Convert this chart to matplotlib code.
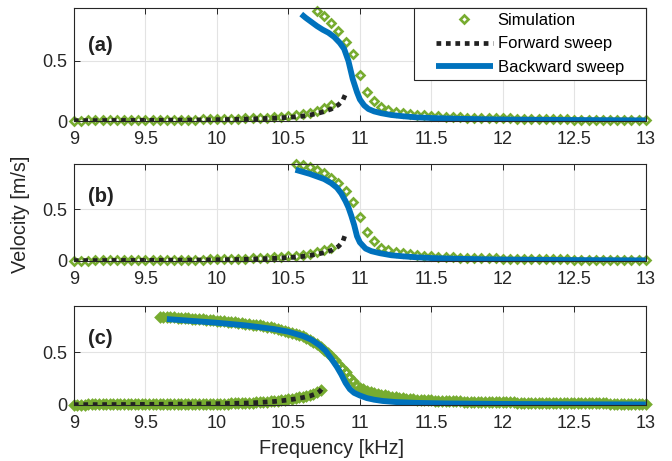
import numpy as np
import matplotlib
matplotlib.use("Agg")
import matplotlib.pyplot as plt
from matplotlib.path import Path

plt.rcParams['font.family'] = ['Liberation Sans', 'DejaVu Sans']

GREEN = '#77AC30'
BLUE = '#0072BD'
BLACK = '#222222'
DARK = '#262626'

xticks = [9, 9.5, 10, 10.5, 11, 11.5, 12, 12.5, 13]
xtick_labels = ['9', '9.5', '10', '10.5', '11', '11.5', '12', '12.5', '13']
yticks = [0, 0.5]
ytick_labels = ['0', '0.5']
panel_labels = ['(a)', '(b)', '(c)']
legend_labels = ['Simulation', 'Forward sweep', 'Backward sweep']

# ---------------- panel (a) ----------------
sim_a_low_f = np.round(np.arange(9.0, 10.8001, 0.05), 3)
sim_a_low_v = [0.004, 0.004, 0.005, 0.005, 0.005, 0.006, 0.006, 0.006, 0.007, 0.007,
               0.008, 0.008, 0.009, 0.009, 0.010, 0.011, 0.011, 0.012, 0.013, 0.014,
               0.015, 0.016, 0.017, 0.019, 0.021, 0.023, 0.025, 0.028, 0.031, 0.035,
               0.040, 0.047, 0.056, 0.068, 0.084, 0.106, 0.135]
sim_a_up_f = np.round(np.arange(10.7, 13.0001, 0.05), 3)
sim_a_up_v = [0.915, 0.870, 0.815, 0.745, 0.655, 0.555, 0.385, 0.240, 0.163, 0.120,
              0.094, 0.079, 0.068, 0.059, 0.052, 0.047, 0.043,
              0.039, 0.036, 0.033, 0.031, 0.029, 0.027, 0.025, 0.024, 0.023, 0.022,
              0.021, 0.020, 0.019, 0.018, 0.017, 0.016, 0.015, 0.014, 0.013, 0.012,
              0.011, 0.011, 0.010, 0.009, 0.009, 0.008, 0.007, 0.007, 0.006, 0.006]
fwd_a_f = [9.0, 9.2, 9.4, 9.6, 9.8, 10.0, 10.1, 10.2, 10.3, 10.4, 10.5, 10.55,
           10.6, 10.65, 10.7, 10.75, 10.8, 10.85, 10.88, 10.9]
fwd_a_v = [0.003, 0.004, 0.005, 0.006, 0.008, 0.011, 0.013, 0.016, 0.019, 0.024,
           0.030, 0.035, 0.041, 0.050, 0.062, 0.078, 0.100, 0.135, 0.170, 0.225]
bwd_a_f = [10.59, 10.62, 10.66, 10.70, 10.74, 10.78, 10.82, 10.86, 10.89, 10.92,
           10.95, 10.98, 11.00, 11.03, 11.06, 11.10, 11.15, 11.22, 11.30, 11.40,
           11.50, 11.70, 12.0, 12.5, 13.0]
bwd_a_v = [0.89, 0.86, 0.825, 0.79, 0.76, 0.735, 0.70, 0.65, 0.60, 0.50,
           0.35, 0.24, 0.18, 0.13, 0.10, 0.08, 0.065, 0.05, 0.04, 0.03,
           0.025, 0.018, 0.012, 0.008, 0.005]

# ---------------- panel (b) ----------------
sim_b_low_f = np.round(np.arange(9.0, 10.8001, 0.05), 3)
sim_b_low_v = [0.004, 0.004, 0.004, 0.005, 0.005, 0.005, 0.006, 0.006, 0.006, 0.007,
               0.007, 0.008, 0.008, 0.009, 0.010, 0.010, 0.011, 0.012, 0.013, 0.014,
               0.015, 0.016, 0.018, 0.019, 0.021, 0.024, 0.027, 0.030, 0.034, 0.038,
               0.044, 0.051, 0.060, 0.071, 0.086, 0.105, 0.130]
sim_b_up_f = np.round(np.arange(10.55, 13.0001, 0.05), 3)
sim_b_up_v = [0.945, 0.930, 0.910, 0.882, 0.850, 0.805, 0.755, 0.680, 0.575, 0.425,
              0.285, 0.190, 0.130, 0.102, 0.086, 0.073, 0.063, 0.055, 0.049, 0.044,
              0.040, 0.037, 0.034, 0.032, 0.030, 0.028, 0.026, 0.025, 0.024, 0.023,
              0.022, 0.021, 0.020, 0.019, 0.018, 0.017, 0.016, 0.015, 0.014, 0.013,
              0.012, 0.012, 0.011, 0.010, 0.010, 0.009, 0.008, 0.008, 0.007, 0.007]
fwd_b_f = [9.0, 9.2, 9.4, 9.6, 9.8, 10.0, 10.1, 10.2, 10.3, 10.4, 10.5, 10.55,
           10.6, 10.65, 10.7, 10.75, 10.8, 10.85, 10.88, 10.9]
fwd_b_v = [0.003, 0.004, 0.005, 0.006, 0.008, 0.011, 0.013, 0.016, 0.020, 0.025,
           0.032, 0.037, 0.044, 0.053, 0.065, 0.080, 0.102, 0.140, 0.185, 0.265]
bwd_b_f = [10.55, 10.60, 10.65, 10.70, 10.75, 10.80, 10.84, 10.87, 10.90, 10.92,
           10.94, 10.96, 10.98, 11.00, 11.04, 11.08, 11.14, 11.22, 11.30, 11.40,
           11.50, 11.70, 12.0, 12.5, 13.0]
bwd_b_v = [0.885, 0.865, 0.845, 0.82, 0.795, 0.755, 0.71, 0.655, 0.58, 0.52,
           0.44, 0.35, 0.24, 0.18, 0.12, 0.095, 0.075, 0.055, 0.045, 0.035,
           0.028, 0.02, 0.013, 0.008, 0.005]

# ---------------- panel (c) ----------------
sim_c_low_f = np.round(np.arange(9.0, 10.7251, 0.025), 3)
sim_c_low_v = [0.004, 0.004, 0.004, 0.004, 0.005, 0.005, 0.005, 0.005, 0.005, 0.005,
               0.006, 0.006, 0.006, 0.006, 0.006, 0.006, 0.007, 0.007, 0.007, 0.007,
               0.007,
               0.007, 0.008, 0.008, 0.008, 0.008, 0.009, 0.009, 0.009, 0.009, 0.010,
               0.010, 0.010, 0.011, 0.011, 0.011, 0.012, 0.012, 0.012, 0.012, 0.013,
               0.013, 0.013, 0.014, 0.015, 0.016, 0.017, 0.018, 0.019, 0.020, 0.022,
               0.024, 0.026,
               0.028, 0.031, 0.034, 0.037, 0.041, 0.045, 0.050, 0.055,
               0.060, 0.066, 0.072, 0.080, 0.088, 0.097, 0.108, 0.122, 0.142]
sim_c_up_f = np.round(np.arange(9.6, 13.0001, 0.025), 3)
sim_c_up_v = [0.835, 0.834, 0.833, 0.832, 0.830, 0.828, 0.826, 0.824, 0.822, 0.820,
              0.817, 0.815, 0.812, 0.809, 0.806, 0.803, 0.800, 0.797, 0.794, 0.790,
              0.787, 0.783, 0.780, 0.776, 0.772, 0.768, 0.763, 0.759, 0.754, 0.748,
              0.743, 0.737, 0.730, 0.722, 0.714, 0.705, 0.695, 0.685, 0.674, 0.662,
              0.650, 0.636, 0.620, 0.601, 0.580, 0.554, 0.525, 0.493, 0.460, 0.425,
              0.390, 0.350, 0.310, 0.265, 0.225, 0.190, 0.165, 0.148, 0.135, 0.124,
              0.115, 0.106, 0.097, 0.090, 0.083, 0.078, 0.073, 0.068, 0.064, 0.061,
              0.058, 0.055, 0.052, 0.050, 0.048, 0.046, 0.044, 0.042, 0.041, 0.039,
              0.038, 0.037, 0.036, 0.035, 0.034, 0.033, 0.032, 0.031, 0.030, 0.030,
              0.029, 0.028, 0.028, 0.027, 0.026, 0.026, 0.025,
              0.025, 0.024, 0.024, 0.023, 0.023, 0.022, 0.022, 0.021, 0.021, 0.020,
              0.020, 0.020, 0.019, 0.019, 0.018, 0.018, 0.018, 0.017, 0.017, 0.017,
              0.016, 0.016, 0.016, 0.016, 0.015, 0.015, 0.015, 0.015, 0.015, 0.014,
              0.014, 0.014, 0.014, 0.014, 0.013, 0.013, 0.013, 0.013, 0.013, 0.013]
fwd_c_f = [9.0, 9.2, 9.4, 9.6, 9.8, 10.0, 10.1, 10.2, 10.3, 10.4, 10.45, 10.5,
           10.55, 10.6, 10.65, 10.7, 10.72, 10.75]
fwd_c_v = [0.003, 0.004, 0.005, 0.007, 0.009, 0.012, 0.015, 0.018, 0.024, 0.033,
           0.040, 0.048, 0.058, 0.070, 0.085, 0.110, 0.130, 0.185]
bwd_c_f = [9.65, 9.8, 10.0, 10.2, 10.4, 10.5, 10.6, 10.66, 10.72, 10.76, 10.80,
           10.84, 10.87, 10.90, 10.93, 10.96, 11.0, 11.05, 11.1, 11.16, 11.25, 11.4,
           11.6, 12.0, 12.5, 13.0]
bwd_c_v = [0.815, 0.80, 0.78, 0.755, 0.72, 0.695, 0.655, 0.62, 0.565, 0.515, 0.44,
           0.36, 0.29, 0.21, 0.15, 0.115, 0.09, 0.065, 0.05, 0.038, 0.028, 0.02,
           0.015, 0.01, 0.007, 0.005]

panels = [
    (sim_a_low_f, sim_a_low_v, sim_a_up_f, sim_a_up_v, fwd_a_f, fwd_a_v, bwd_a_f, bwd_a_v),
    (sim_b_low_f, sim_b_low_v, sim_b_up_f, sim_b_up_v, fwd_b_f, fwd_b_v, bwd_b_f, bwd_b_v),
    (sim_c_low_f, sim_c_low_v, sim_c_up_f, sim_c_up_v, fwd_c_f, fwd_c_v, bwd_c_f, bwd_c_v),
]

fig = plt.figure(figsize=(6.72, 4.61), dpi=100)
# axes boxes in figure fractions [left, bottom, width, height]
boxes = [[0.110, 0.7375, 0.851, 0.245],
         [0.110, 0.434, 0.851, 0.210],
         [0.110, 0.1215, 0.851, 0.215]]
marker_edge = [1.9, 1.9, 2.4]

for box, data, lab, mew in zip(boxes, panels, panel_labels, marker_edge):
    ax = fig.add_axes(box)
    lo_f, lo_v, up_f, up_v, fw_f, fw_v, bw_f, bw_v = data
    sim_kw = dict(ls='none', marker='D', ms=4.3, mew=mew, mfc='none', mec=GREEN, clip_on=False)
    ax.plot(lo_f, lo_v, **sim_kw)
    h_sim, = ax.plot(up_f, up_v, **sim_kw)
    h_fwd, = ax.plot(fw_f, fw_v, color=BLACK, lw=3.4, ls=(0, (1, 1.0)), dash_capstyle='butt')
    h_bwd, = ax.plot(bw_f, bw_v, color=BLUE, lw=4.2, solid_capstyle='butt')

    ax.set_xlim(9, 13)
    ax.set_ylim(0, 0.94)
    ax.set_xticks(xticks)
    ax.set_xticklabels(xtick_labels)
    ax.set_yticks(yticks)
    ax.set_yticklabels(ytick_labels)
    ax.tick_params(direction='in', top=True, right=True, length=4, width=0.7,
                   color=DARK, labelcolor=DARK, labelsize=13, pad=5)
    ax.tick_params(axis='x', pad=7)
    ax.grid(True, color='#e3e3e3', lw=0.8)
    ax.set_axisbelow(True)
    for sp in ax.spines.values():
        sp.set_color(DARK)
        sp.set_linewidth(0.8)
    ax.text(0.024, 0.67, lab, transform=ax.transAxes, fontsize=14.5,
            fontweight='bold', va='center', ha='left', color=BLACK)

    if lab == '(a)':
        leg = ax.legend([h_sim, h_fwd, h_bwd], legend_labels, loc='upper right',
                        bbox_to_anchor=(1 - 17 / 572, 1.0), borderaxespad=0,
                        fontsize=12, numpoints=1, handlelength=3.4, handletextpad=0.3,
                        labelspacing=0.5, borderpad=0.3, fancybox=False,
                        framealpha=1, edgecolor=DARK)
        leg.get_frame().set_linewidth(0.8)

        def wide_box(x0, y0, width, height, mutation_size, px=17):
            verts = [(x0 - px, y0), (x0 + width + px, y0), (x0 + width + px, y0 + height),
                     (x0 - px, y0 + height), (x0 - px, y0)]
            return Path(verts, closed=True)
        leg.get_frame().set_boxstyle(wide_box)

fig.text(0.03, 0.535, 'Velocity [m/s]', rotation=90, ha='center', va='center',
         fontsize=14.3, color=DARK)
fig.text(0.493, 0.028, 'Frequency [kHz]', ha='center', va='center',
         fontsize=14.3, color=DARK)

fig.savefig('out.png', dpi=100)
